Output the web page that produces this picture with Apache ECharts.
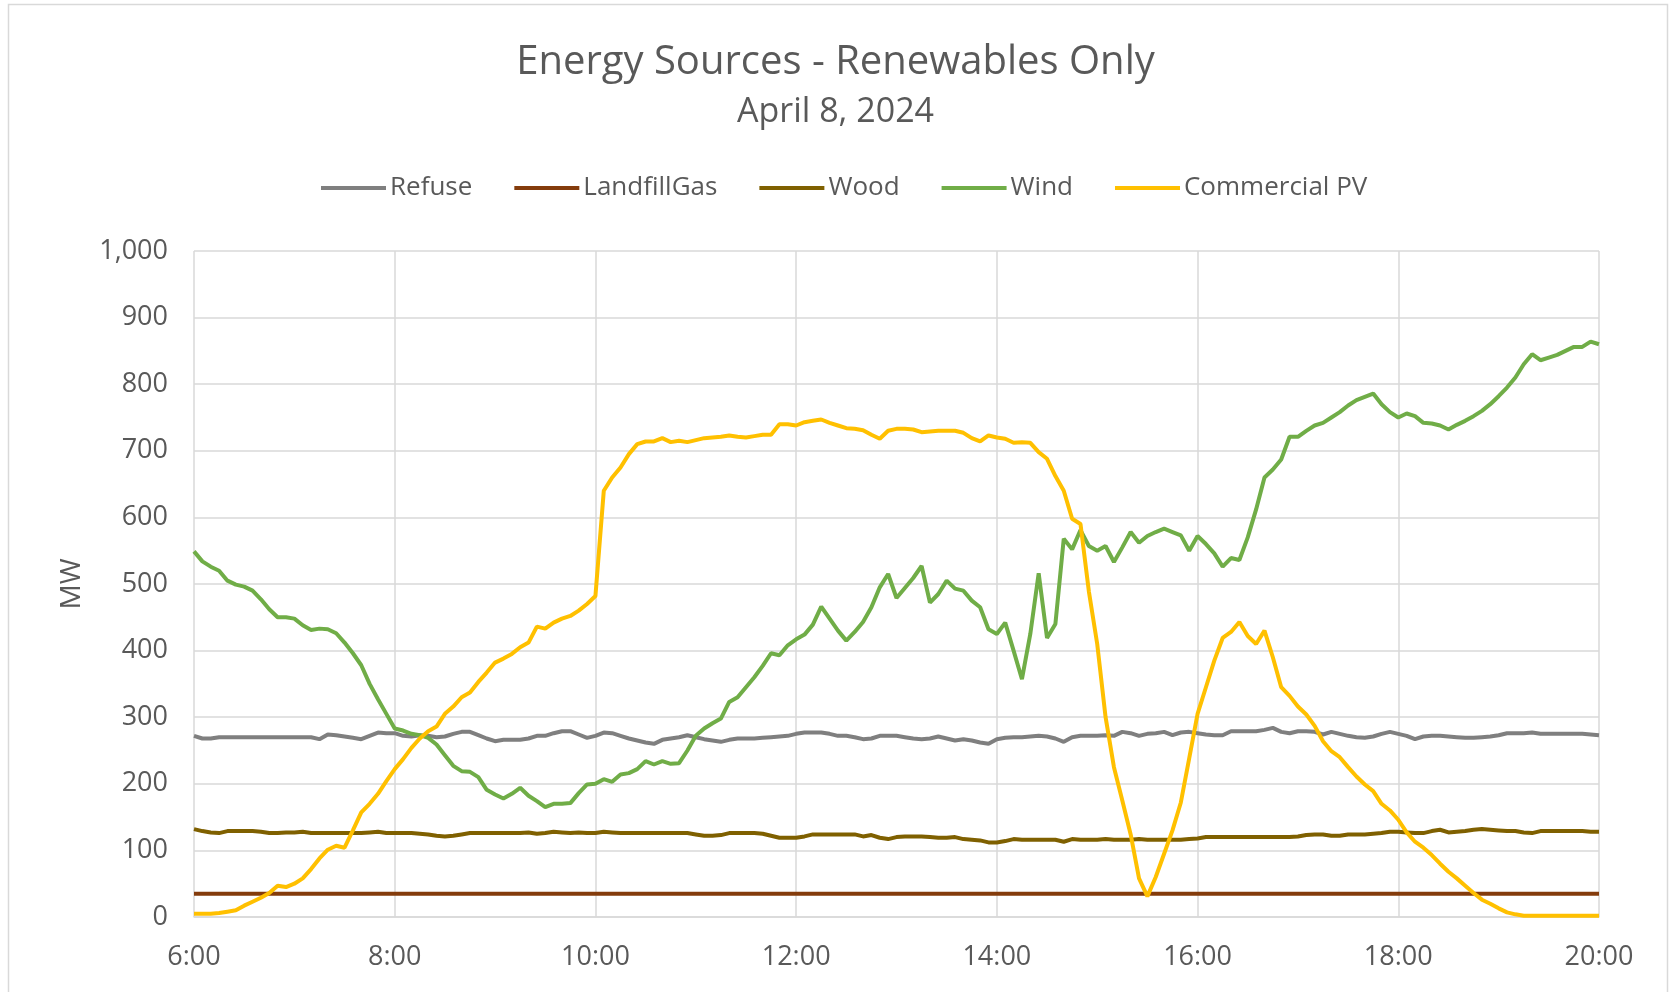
<!DOCTYPE html>
<html style="height: 100%">
<head>
<meta charset="utf-8">
</head>
<body style="height: 100%; margin: 0; background: #fff">
<div id="container" style="width: 1671px; height: 992px"></div>
<script type="text/javascript" src="https://cdn.jsdelivr.net/npm/echarts@6/dist/echarts.min.js"></script>
<script type="text/javascript">
// time of day, 5 minute steps from 6:00 to 20:00
var times = [];
for (var m = 360; m <= 1200; m += 5) {
    times.push(Math.floor(m / 60) + ':' + ('0' + (m % 60)).slice(-2));
}

var seriesNames = ['Refuse', 'LandfillGas', 'Wood', 'Wind', 'Commercial PV'];
var seriesColors = ['#7f7f7f', '#843c0c', '#7f6000', '#70ad47', '#ffc000'];

var refuse = [
    272, 268, 268, 270, 270, 270, 270, 270, 270, 270, 270, 270, 270, 270, 270, 267, 274, 273, 271, 269, 267, 272, 277, 276, 276,
    272, 271, 273, 272, 270, 271, 275, 278, 278, 273, 268, 264, 266, 266, 266, 268, 272, 272, 276, 279, 279, 274, 269, 272,
    277, 276, 272, 268, 265, 262, 260, 266, 268, 270, 273, 270, 267, 265, 263, 266, 268, 268, 268, 269, 270, 271, 272, 275,
    277, 277, 277, 275, 272, 272, 270, 267, 268, 272, 272, 272, 270, 268, 267, 268, 271, 268, 265, 267, 265, 262, 260, 267,
    269, 270, 270, 271, 272, 271, 268, 263, 270, 272, 272, 272, 273, 272, 278, 276, 272, 275, 276, 278, 273, 277, 278, 276,
    274, 273, 273, 279, 279, 279, 279, 281, 284, 278, 276, 279, 279, 278, 274, 278, 275, 272, 270, 269, 271, 275, 278, 275,
    272, 267, 271, 272, 272, 271, 270, 269, 269, 270, 271, 273, 276, 276, 276, 277, 275, 275, 275, 275, 275, 275, 274, 273
];

var landfillGas = [
    35, 35, 35, 35, 35, 35, 35, 35, 35, 35, 35, 35, 35, 35, 35, 35, 35, 35, 35, 35, 35, 35, 35, 35, 35,
    35, 35, 35, 35, 35, 35, 35, 35, 35, 35, 35, 35, 35, 35, 35, 35, 35, 35, 35, 35, 35, 35, 35, 35,
    35, 35, 35, 35, 35, 35, 35, 35, 35, 35, 35, 35, 35, 35, 35, 35, 35, 35, 35, 35, 35, 35, 35, 35,
    35, 35, 35, 35, 35, 35, 35, 35, 35, 35, 35, 35, 35, 35, 35, 35, 35, 35, 35, 35, 35, 35, 35, 35,
    35, 35, 35, 35, 35, 35, 35, 35, 35, 35, 35, 35, 35, 35, 35, 35, 35, 35, 35, 35, 35, 35, 35, 35,
    35, 35, 35, 35, 35, 35, 35, 35, 35, 35, 35, 35, 35, 35, 35, 35, 35, 35, 35, 35, 35, 35, 35, 35,
    35, 35, 35, 35, 35, 35, 35, 35, 35, 35, 35, 35, 35, 35, 35, 35, 35, 35, 35, 35, 35, 35, 35, 35
];

var wood = [
    132, 129, 127, 126, 129, 129, 129, 129, 128, 126, 126, 127, 127, 128, 126, 126, 126, 126, 126, 126, 126, 127, 128, 126, 126,
    126, 126, 125, 124, 122, 121, 122, 124, 126, 126, 126, 126, 126, 126, 126, 127, 125, 126, 128, 127, 126, 127, 126, 126,
    128, 127, 126, 126, 126, 126, 126, 126, 126, 126, 126, 124, 122, 122, 123, 126, 126, 126, 126, 125, 122, 119, 119, 119,
    121, 124, 124, 124, 124, 124, 124, 121, 123, 119, 117, 120, 121, 121, 121, 120, 119, 119, 120, 117, 116, 115, 112, 112,
    114, 117, 116, 116, 116, 116, 116, 113, 117, 116, 116, 116, 117, 116, 116, 116, 117, 116, 116, 116, 116, 116, 117, 118,
    120, 120, 120, 120, 120, 120, 120, 120, 120, 120, 120, 121, 123, 124, 124, 122, 122, 124, 124, 124, 125, 126, 128, 128,
    127, 126, 126, 129, 131, 127, 128, 129, 131, 132, 131, 130, 129, 129, 127, 126, 129, 129, 129, 129, 129, 129, 128, 128
];

var wind = [
    549, 534, 526, 520, 505, 499, 496, 490, 477, 462, 450, 450, 448, 438, 431, 433, 432, 426, 412, 396, 378, 350, 327, 305, 283,
    280, 275, 273, 269, 259, 243, 227, 219, 218, 210, 191, 184, 178, 185, 194, 182, 174, 165, 170, 170, 171, 186, 199, 200,
    207, 203, 214, 216, 222, 234, 229, 234, 230, 231, 250, 272, 283, 291, 298, 323, 330, 345, 360, 377, 396, 393, 408, 417,
    424, 439, 466, 448, 430, 415, 428, 443, 465, 495, 515, 479, 494, 509, 527, 472, 485, 505, 493, 490, 475, 465, 432, 425,
    442, 400, 357, 425, 516, 419, 440, 568, 552, 581, 557, 550, 557, 533, 555, 578, 562, 572, 578, 583, 578, 573, 550, 572,
    560, 546, 526, 539, 536, 570, 612, 660, 672, 687, 721, 721, 730, 738, 742, 750, 758, 768, 776, 781, 786, 770, 758, 750,
    756, 752, 742, 741, 738, 732, 739, 745, 752, 760, 770, 782, 795, 810, 830, 845, 836, 840, 844, 850, 856, 856, 864, 860
];

var commercialPV = [
    5, 5, 5, 6, 8, 10, 17, 23, 29, 36, 47, 45, 50, 58, 72, 88, 101, 107, 104, 130, 157, 170, 185, 204, 222,
    237, 254, 268, 279, 286, 305, 316, 330, 337, 353, 367, 382, 388, 395, 405, 412, 436, 433, 442, 448, 452, 460, 470, 482,
    640, 660, 675, 695, 710, 714, 714, 719, 713, 715, 713, 716, 719, 720, 721, 723, 721, 720, 722, 724, 724, 740, 740, 738,
    743, 745, 747, 742, 738, 734, 733, 731, 724, 718, 730, 733, 733, 732, 728, 729, 730, 730, 730, 727, 719, 714, 723, 720,
    718, 712, 713, 712, 698, 688, 662, 640, 598, 590, 489, 410, 300, 225, 175, 124, 58, 31, 60, 95, 130, 172, 238, 305,
    345, 385, 419, 428, 443, 422, 410, 430, 390, 345, 332, 316, 304, 287, 264, 249, 240, 225, 211, 199, 189, 170, 160, 146,
    127, 113, 104, 93, 80, 68, 58, 47, 36, 26, 20, 13, 7, 4, 2, 2, 2, 2, 2, 2, 2, 2, 2, 2
];

var seriesData = [refuse, landfillGas, wood, wind, commercialPV];

var dom = document.getElementById("container");
var myChart = echarts.init(dom, null, {renderer: 'canvas'});
var textColor = '#595959';
var gridColor = '#d9d9d9';
var font = "'Open Sans', 'Noto Sans', sans-serif";

var series = [];
for (var i = 0; i < seriesNames.length; i++) {
    series.push({
        name: seriesNames[i],
        type: 'line',
        data: seriesData[i],
        showSymbol: false,
        symbol: 'none',
        color: seriesColors[i],
        lineStyle: {width: 4, color: seriesColors[i]},
        emphasis: {disabled: true}
    });
}

var option = {
    animation: false,
    textStyle: {fontFamily: font},
    title: [
        {
            text: 'Energy Sources - Renewables Only',
            left: 'center',
            top: 38,
            textStyle: {fontSize: 40, fontWeight: 'normal', color: textColor, fontFamily: font}
        },
        {
            text: 'April 8, 2024',
            left: 'center',
            top: 90,
            textStyle: {fontSize: 34, fontWeight: 'normal', color: textColor, fontFamily: font}
        }
    ],
    legend: {
        data: seriesNames,
        top: 170,
        left: 316,
        icon: 'rect',
        itemWidth: 65,
        itemHeight: 4,
        itemGap: 42,
        textStyle: {fontSize: 26, color: textColor, fontFamily: font, padding: [0, 0, 0, -1]}
    },
    grid: {left: 194, right: 72, top: 251, bottom: 75},
    xAxis: {
        type: 'category',
        data: times,
        boundaryGap: false,
        axisTick: {show: false},
        axisLine: {lineStyle: {color: gridColor, width: 1.5}},
        axisLabel: {interval: 23, color: textColor, fontSize: 27, margin: 27, fontFamily: font},
        splitLine: {show: true, interval: 23, lineStyle: {color: gridColor, width: 1.5}}
    },
    yAxis: {
        type: 'value',
        min: 0,
        max: 1000,
        interval: 100,
        name: 'MW',
        nameLocation: 'middle',
        nameGap: 108,
        nameTextStyle: {fontSize: 28, color: textColor, fontFamily: font},
        axisLine: {show: false},
        axisTick: {show: false},
        axisLabel: {
            color: textColor,
            fontSize: 27,
            margin: 26,
            fontFamily: font,
            formatter: function (v) { return v.toLocaleString('en-US'); }
        },
        splitLine: {lineStyle: {color: gridColor, width: 1.5}}
    },
    graphic: [
        {
            type: 'rect',
            silent: true,
            shape: {x: 8.5, y: 4.5, width: 1659, height: 1000},
            style: {fill: 'none', stroke: gridColor, lineWidth: 1.5}
        }
    ],
    series: series
};

myChart.setOption(option, true);
</script>
</body>
</html>
